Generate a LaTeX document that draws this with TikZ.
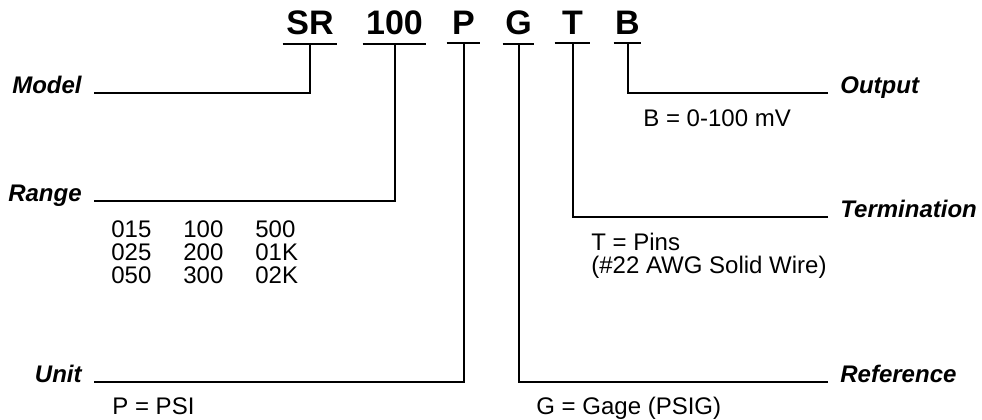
\documentclass[tikz,border=0pt]{standalone}
\usepackage{fontspec}
\setmainfont{Liberation Sans}

\begin{document}
\begin{tikzpicture}[
    x=0.5pt, y=-0.5pt,
    every node/.style={inner sep=0pt},
    code/.style={font=\fontsize{17}{19}\selectfont\bfseries, inner ysep=4.5pt, minimum width=#1, anchor=base},
    lbl/.style={font=\fontsize{12}{14}\selectfont\bfseries\itshape, inner xsep=6pt},
    val/.style={font=\fontsize{12}{14}\selectfont, anchor=base west},
    wire/.style={line width=1pt},
]
    \useasboundingbox (0,0) rectangle (982,419);

    % --- part number code (top row) ---
    \node[code=27pt]   (sr)      at (310,34)   {SR};
    \node[code=31.5pt] (hundred) at (394.5,34) {100};
    \node[code=16.5pt] (pcode)   at (463.5,34) {P};
    \node[code=15.5pt] (gcode)   at (518.5,34) {G};
    \node[code=17.5pt] (tcode)   at (572.5,34) {T};
    \node[code=13.5pt] (bcode)   at (627.5,34) {B};

    % --- field labels, left and right ---
    \node[lbl, anchor=base east] (model)       at (94,93)   {Model};
    \node[lbl, anchor=base east] (range)       at (94,201)  {Range};
    \node[lbl, anchor=base east] (unit)        at (94,382)  {Unit};
    \node[lbl, anchor=base west] (output)      at (828,93)  {Output};
    \node[lbl, anchor=base west] (termination) at (828,217) {Termination};
    \node[lbl, anchor=base west] (reference)   at (828,382) {Reference};

    % --- option values ---
    \node[val] (outval) at (643,126) {B = 0-100 mV};
    % range table, one node per row
    \node[val] (rangerow1) at (111,237) {\makebox[36pt][l]{015}\makebox[36pt][l]{100}500};
    \node[val] (rangerow2) at (111,260) {\makebox[36pt][l]{025}\makebox[36pt][l]{200}01K};
    \node[val] (rangerow3) at (111,283) {\makebox[36pt][l]{050}\makebox[36pt][l]{300}02K};
    \node[val] (termval1) at (591,250) {T = Pins};
    \node[val] (termval2) at (591,273) {(\#22 AWG Solid Wire)};
    \node[val] (unitval) at (112,414) {P = PSI};
    \node[val] (refval)  at (536,414) {G = Gage (PSIG)};

    % --- underlines below each code ---
    \foreach \c in {sr, hundred, pcode, gcode, tcode, bcode}
        \draw[wire] (\c.south west) -- (\c.south east);

    % --- leader lines from labels up to the codes ---
    \draw[wire] (model.base east)       -| (sr.south);
    \draw[wire] (range.base east)       -| (hundred.south);
    \draw[wire] (unit.base east)        -| (pcode.south);
    \draw[wire] (reference.base west)   -| (gcode.south);
    \draw[wire] (termination.base west) -| (tcode.south);
    \draw[wire] (output.base west)      -| (bcode.south);
\end{tikzpicture}
\end{document}
